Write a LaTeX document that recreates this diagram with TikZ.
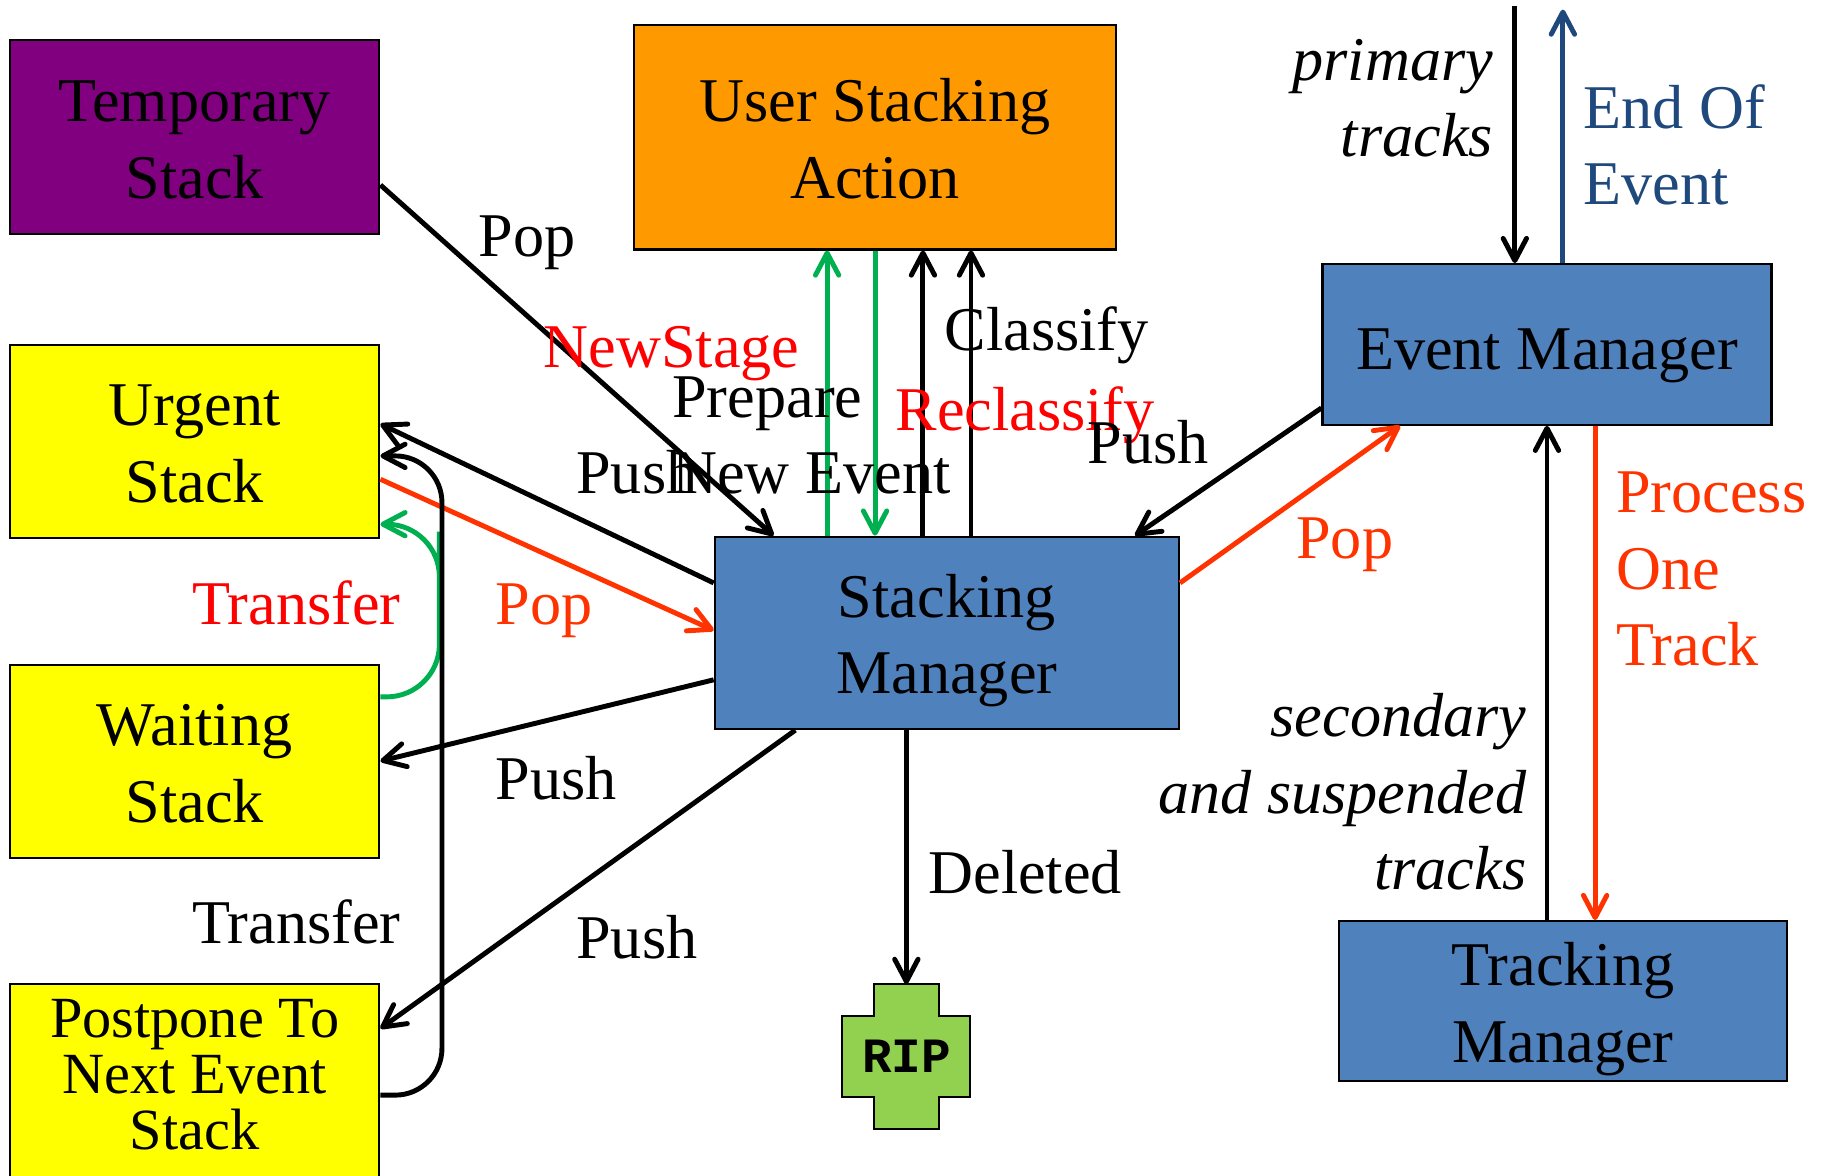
\documentclass[tikz,border=0pt]{standalone}
\usepackage{fontspec}
\setmainfont{Liberation Serif}
\setmonofont{Liberation Mono}
\usepackage{tikz}
\usetikzlibrary{calc}
\usetikzlibrary{arrows.meta}
\usetikzlibrary{positioning}
\definecolor{tempviolet}{RGB}{128,0,128}
\definecolor{stackyellow}{RGB}{255,255,0}
\definecolor{useraction}{RGB}{255,153,0}
\definecolor{managerblue}{RGB}{79,129,189}
\definecolor{ripgreen}{RGB}{146,208,80}
\definecolor{popred}{RGB}{255,51,0}
\definecolor{stagered}{RGB}{255,0,0}
\definecolor{transfergreen}{RGB}{0,176,80}
\definecolor{endblue}{RGB}{31,73,125}
\newcommand{\boxfont}{\fontsize{30.3}{37.3}\selectfont}
\newcommand{\postfont}{\fontsize{28.4}{27.3}\selectfont}
\newcommand{\ripfont}{\fontsize{24}{24}\selectfont\ttfamily\bfseries}

\begin{document}
\begin{tikzpicture}[
Boxes/.style={draw=black,line width=1pt,rectangle,inner sep=0pt,align=center,font=\boxfont,text height=2.39cm,text depth=0.3cm},
Stacks/.style={Boxes,fill=stackyellow,minimum width=6.326cm,minimum height=3.3cm},
Managers/.style={Boxes,fill=managerblue},
Labels/.style={font=\boxfont,inner sep=0pt},
Arrows/.style={line width=2.4pt,-{Straight Barb[round,length=3.8mm,width=4mm]}}
]
\useasboundingbox (0,0) rectangle (31.2,-20.11);

% the stacks
\node[Boxes,fill=tempviolet,minimum width=6.326cm,minimum height=3.32cm] (tmp) at (3.331,-2.344) {Temporary\\Stack};
\node[Stacks] (urg) at (3.331,-7.55) {Urgent\\Stack};
\node[Stacks] (wait) at (3.331,-13.026) {Waiting\\Stack};
\node[Stacks,font=\postfont,text height=2.668cm] (post) at (3.331,-18.496) {Postpone To\\Next Event\\Stack};

% the managers
\node[Boxes,fill=useraction,minimum width=8.252cm,minimum height=3.844cm] (usa) at (14.976,-2.348) {User Stacking\\Action};
\node[Managers,minimum width=7.946cm,minimum height=3.294cm] (sm) at (16.205,-10.831) {Stacking\\Manager};
\node[Managers,minimum width=7.684cm,minimum height=2.75cm,text height=1.15cm] (em) at (26.476,-5.895) {Event Manager};
\node[Managers,minimum width=7.676cm,minimum height=2.74cm] (tm) at (26.752,-17.134) {Tracking\\Manager};

% RIP cross
\coordinate (ripc) at (15.512,-18.08);
\draw[fill=ripgreen,line width=1pt] (ripc) ++(-0.554,1.234) -- ++(1.108,0) -- ++(0,-0.546) -- ++(0.543,0) -- ++(0,-1.376) -- ++(-0.543,0) -- ++(0,-0.546) -- ++(-1.108,0) -- ++(0,0.546) -- ++(-0.543,0) -- ++(0,1.376) -- ++(0.543,0) -- cycle;
\node[minimum width=1.108cm,minimum height=2.468cm,inner sep=0pt,font=\ripfont] (rip) at (ripc) {RIP};

% stacks <-> stacking manager
\draw[Arrows] ([yshift=0.856cm]tmp.south east) -- ([xshift=1.024cm]sm.north west);
\draw[Arrows] ([yshift=-0.81cm]sm.north west) -- ([yshift=-1.374cm]urg.north east);
\draw[Arrows,popred] ([yshift=-2.32cm]urg.north east) -- ([yshift=-1.622cm]sm.north west);
\draw[Arrows] ([yshift=-2.468cm]sm.north west) -- (wait.east);
\draw[Arrows] ([xshift=1.398cm]sm.south west) -- ([yshift=-0.774cm]post.north east);
\draw[Arrows] (rip.north |- sm.south) -- (rip.north);

% transfers back to the urgent stack
\coordinate (loopG) at (7.52,-10);
\coordinate (loopB) at (7.564,-13);
\draw[Arrows,transfergreen,rounded corners=0.9cm] ([yshift=-0.568cm]wait.north east) -| (loopG) |- ([yshift=0.246cm]urg.south east);
\draw[Arrows,rounded corners=0.8cm] ([yshift=-1.914cm]post.north east) -| (loopB) |- ([yshift=-1.92cm]urg.north east);

% user stacking action
\coordinate (ns) at ([xshift=-0.82cm]usa.south);
\coordinate (pn) at (usa.south);
\coordinate (cl) at ([xshift=0.82cm]usa.south);
\coordinate (rc) at ([xshift=1.642cm]usa.south);
\draw[Arrows,transfergreen] (ns |- sm.north) -- (ns);
\draw[Arrows,transfergreen] (pn) -- (pn |- sm.north);
\draw[Arrows] (cl |- sm.north) -- (cl);
\draw[Arrows] (rc |- sm.north) -- (rc);

% event and tracking managers
\coordinate (prim) at (25.926,-0.1);
\coordinate (eoe) at (26.748,-0.164);
\coordinate (pot) at ([xshift=0.824cm]em.south);
\draw[Arrows] (prim) -- (prim |- em.north);
\draw[Arrows,endblue] (eoe |- em.north) -- (eoe);
\draw[Arrows] ([yshift=0.306cm]em.south west) -- ([xshift=-0.77cm]sm.north east);
\draw[Arrows,popred] ([yshift=-0.81cm]sm.north east) -- ([xshift=1.346cm]em.south west);
\draw[Arrows] (em.south |- tm.north) -- (em.south);
\draw[Arrows,popred] (pot) -- (pot |- tm.north);

% labels
\node[Labels,anchor=base west] (popT) at (8.19,-4.388) {Pop};
\node[Labels,anchor=base west,text=stagered] (newstage) at (9.30,-6.288) {NewStage};
\node[Labels,anchor=base west,align=left] (prepare) at (11.5,-8.448) {Prepare\\New Event};
\node[Labels,anchor=base west] (pushU) at (9.856,-8.448) {Push};
\node[Labels,anchor=base west] (classify) at (16.16,-5.992) {Classify};
\node[Labels,anchor=base west,text=stagered] (reclassify) at (15.32,-7.368) {Reclassify};
\node[Labels,anchor=base west] (pushE) at (18.604,-7.926) {Push};
\node[Labels,anchor=base west,text=popred] (popE) at (22.18,-9.562) {Pop};
\node[Labels,anchor=base east,align=right,font=\boxfont\itshape] (primary) at (25.56,-2.686) {primary\\tracks};
\node[Labels,anchor=base west,align=left,text=endblue] (endevent) at (27.10,-3.504) {End Of\\Event};
\node[Labels,anchor=base west,align=left,text=popred] (process) at (27.652,-11.394) {Process\\One\\Track};
\node[Labels,anchor=base east,align=right,font=\boxfont\itshape] (secondary) at (26.13,-15.226) {secondary\\and suspended\\tracks};
\node[Labels,anchor=base west] (deleted) at (15.884,-15.3) {Deleted};
\node[Labels,anchor=base west] (pushW) at (8.48,-13.678) {Push};
\node[Labels,anchor=base west] (pushP) at (9.856,-16.404) {Push};
\node[Labels,anchor=base west,text=stagered] (transferR) at (3.28,-10.694) {Transfer};
\node[Labels,anchor=base west,text=popred] (popU) at (8.48,-10.694) {Pop};
\node[Labels,anchor=base west] (transferB) at (3.28,-16.146) {Transfer};

\end{tikzpicture}
\end{document}
